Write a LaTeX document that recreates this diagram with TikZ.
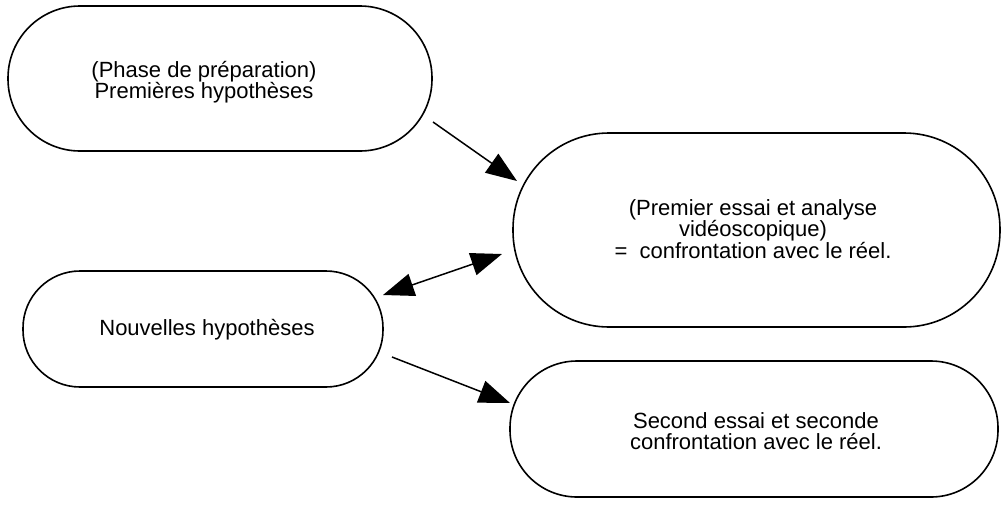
\documentclass[tikz,border=0pt]{standalone}
\usepackage{fontspec}
\setmainfont{Liberation Sans}
\usetikzlibrary{arrows.meta}
\begin{document}
\begin{tikzpicture}[x=1pt,y=-1pt,
  box/.style={draw, line width=1.6pt, inner sep=0pt},
  lbl/.style={align=center, font=\fontsize{22}{21.5}\selectfont, inner sep=0pt},
  tipa/.style={-{Triangle[length=31pt,width=23pt]}},
  conn/.style={line width=1.5pt, tipa},
  conn2/.style={line width=1.5pt, {Triangle[length=31pt,width=23pt]}-{Triangle[length=31pt,width=23pt]}}
]
\useasboundingbox (0,0) rectangle (1005,507);
% boxes
\node[box, minimum width=424pt, minimum height=145pt, rounded corners=72pt] (n1) at (220,78.5) {};
\node[box, minimum width=487pt, minimum height=194pt, rounded corners=96pt] (n2) at (756.5,230) {};
\node[box, minimum width=360pt, minimum height=116pt, rounded corners=57pt] (n3) at (203,329) {};
\node[box, minimum width=488pt, minimum height=136pt, rounded corners=67pt] (n4) at (754,429) {};
% texts
\node[lbl] (t1) at (204,82) {(Phase de préparation)\\Premières hypothèses};
\node[lbl] (t2) at (753,229) {(Premier essai et analyse\\vidéoscopique)\\=\ \ confrontation avec le réel.};
\node[lbl] (t3) at (207,330) {Nouvelles hypothèses};
\node[lbl] (t4) at (756,431) {Second essai et seconde\\confrontation avec le réel.};
% connector ends
\coordinate (a1s) at (433,122);
\coordinate (a1e) at (517,181);
\coordinate (a2s) at (383,295);
\coordinate (a2e) at (502,254);
\coordinate (a3s) at (392,357);
\coordinate (a3e) at (510,403);
% connectors
\draw[conn] (a1s) -- (a1e);
\draw[conn2] (a2s) -- (a2e);
\draw[conn] (a3s) -- (a3e);
\end{tikzpicture}
\end{document}
